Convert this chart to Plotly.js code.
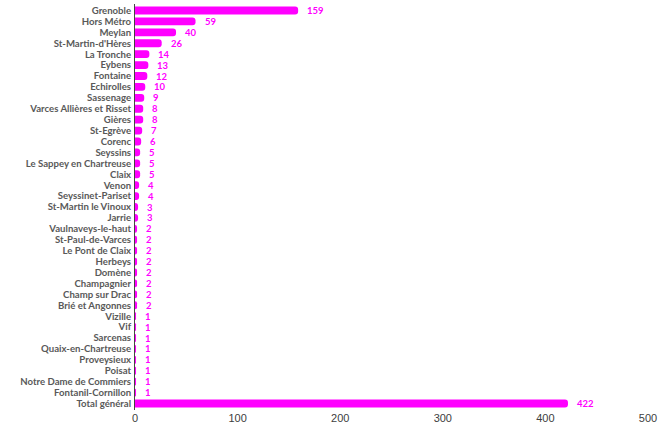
<!DOCTYPE html>
<html>
<head>
<meta charset="utf-8">
<script src="https://cdn.plot.ly/plotly-3.0.1.min.js"></script>
<style>html,body{margin:0;padding:0;background:#fff;}#chart{width:670px;height:430px;}</style>
</head>
<body>
<div id="chart"></div>
<script>
const communes = ["Grenoble","Hors Métro","Meylan","St-Martin-d'Hères","La Tronche","Eybens","Fontaine","Echirolles","Sassenage","Varces Allières et Risset","Gières","St-Egrève","Corenc","Seyssins","Le Sappey en Chartreuse","Claix","Venon","Seyssinet-Pariset","St-Martin le Vinoux","Jarrie","Vaulnaveys-le-haut","St-Paul-de-Varces","Le Pont de Claix","Herbeys","Domène","Champagnier","Champ sur Drac","Brié et Angonnes","Vizille","Vif","Sarcenas","Quaix-en-Chartreuse","Proveysieux","Poisat","Notre Dame de Commiers","Fontanil-Cornillon","Total général"];
const counts = [159,59,40,26,14,13,12,10,9,8,8,7,6,5,5,5,4,4,3,3,2,2,2,2,2,2,2,2,1,1,1,1,1,1,1,1,422];
const xTicks = [0,100,200,300,400,500];

const annotations = communes.map((c, i) => ({
  x: counts[i], y: c, xref: 'x', yref: 'y', text: '<b>' + counts[i] + '</b>',
  showarrow: false, xanchor: 'left', yanchor: 'middle', xshift: 8,
  borderpad: 0,
  font: {family: 'Lato', size: 9.5, color: '#ff00ff'}
}));

Plotly.newPlot('chart', [{
  type: 'bar', orientation: 'h', x: counts, y: communes,
  marker: {color: '#ff00ff', cornerradius: 3},
  width: 0.72, hoverinfo: 'none'
}], {
  width: 670, height: 430,
  margin: {l: 135, r: 22, t: 4, b: 20, pad: 0},
  paper_bgcolor: '#fff', plot_bgcolor: '#fff',
  showlegend: false,
  xaxis: {range: [0, 500], tickvals: xTicks, ticktext: xTicks.map(String), showgrid: false, zeroline: false, showline: false, ticks: '',
    tickfont: {family: 'Liberation Sans', size: 11, color: '#404040'}},
  yaxis: {type: 'category', autorange: 'reversed', tickmode: 'array', tickvals: communes, ticktext: communes.map(c => '<b>' + c + '</b>'),
    showgrid: false, zeroline: false, showline: true, linecolor: '#444', linewidth: 1, ticks: '',
    ticklabelstandoff: 1,
    tickfont: {family: 'Lato', size: 9.6, color: '#595959'}},
  annotations: annotations
}, {displayModeBar: false, staticPlot: true});
</script>
</body>
</html>
